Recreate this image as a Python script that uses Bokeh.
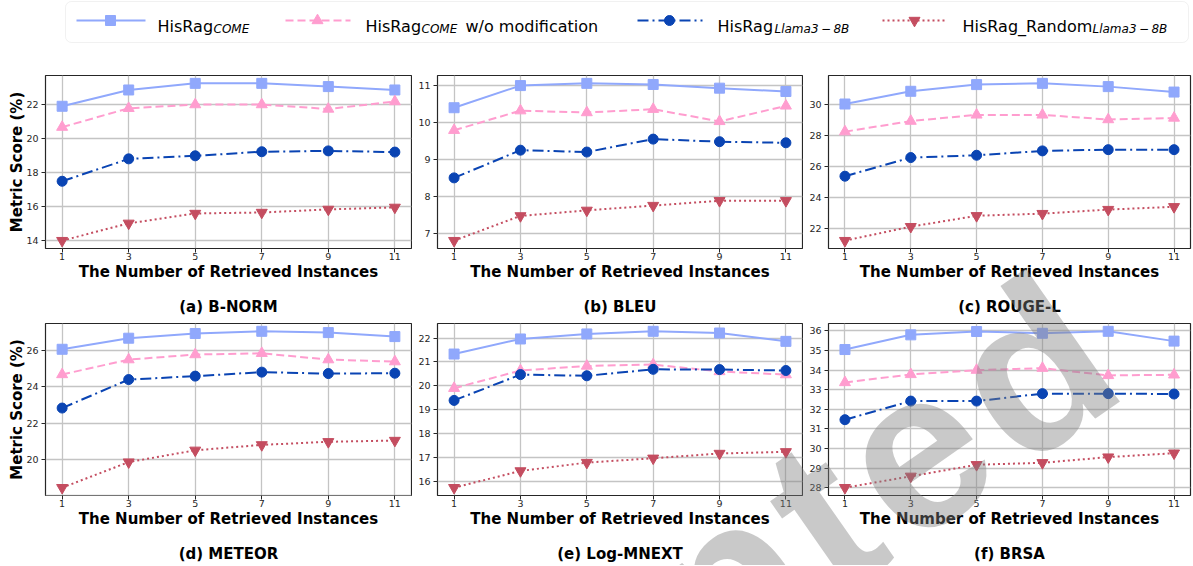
from bokeh.plotting import figure
from bokeh.models import Range1d, FixedTicker, BoxAnnotation, LinearAxis
from bokeh.layouts import column, row
from bokeh.embed import file_html
from bokeh.resources import INLINE
from bokeh.core.properties import value

# ---------------- data ----------------
x_vals = [1, 3, 5, 7, 9, 11]

series_labels = ["HisRag_COME", "HisRag_COME w/o modification",
                 "HisRag_Llama3-8B", "HisRag_Random_Llama3-8B"]

panel_titles = ["(a) B-NORM", "(b) BLEU", "(c) ROUGE-L",
                "(d) METEOR", "(e) Log-MNEXT", "(f) BRSA"]

bnorm_come = [21.92, 22.88, 23.27, 23.27, 23.08, 22.88]
bnorm_wo = [20.69, 21.80, 22.02, 22.02, 21.76, 22.20]
bnorm_llama = [17.50, 18.82, 19.00, 19.24, 19.29, 19.22]
bnorm_random = [14.00, 15.02, 15.60, 15.66, 15.84, 15.96]
bnorm_ticks = [14, 16, 18, 20, 22]

bleu_come = [10.40, 11.00, 11.06, 11.03, 10.93, 10.84]
bleu_wo = [9.79, 10.32, 10.27, 10.36, 10.03, 10.45]
bleu_llama = [8.50, 9.25, 9.20, 9.55, 9.48, 9.45]
bleu_random = [6.80, 7.47, 7.62, 7.75, 7.88, 7.88]
bleu_ticks = [7, 8, 9, 10, 11]

rouge_come = [30.00, 30.82, 31.25, 31.33, 31.12, 30.77]
rouge_wo = [28.22, 28.90, 29.30, 29.30, 29.00, 29.10]
rouge_llama = [25.35, 26.55, 26.70, 26.98, 27.06, 27.06]
rouge_random = [21.20, 22.10, 22.80, 22.94, 23.20, 23.38]
rouge_ticks = [22, 24, 26, 28, 30]

meteor_come = [26.07, 26.68, 26.94, 27.06, 26.99, 26.77]
meteor_wo = [24.68, 25.50, 25.78, 25.85, 25.50, 25.39]
meteor_llama = [22.83, 24.40, 24.59, 24.81, 24.73, 24.75]
meteor_random = [18.44, 19.85, 20.50, 20.80, 20.97, 21.04]
meteor_ticks = [18, 20, 22, 24, 26]

mnext_come = [21.33, 21.96, 22.17, 22.28, 22.21, 21.86]
mnext_wo = [19.90, 20.64, 20.83, 20.89, 20.60, 20.47]
mnext_llama = [19.39, 20.47, 20.42, 20.69, 20.68, 20.64]
mnext_random = [15.74, 16.44, 16.79, 16.97, 17.17, 17.24]
mnext_ticks = [16, 17, 18, 19, 20, 21, 22]

brsa_come = [35.05, 35.80, 35.97, 35.88, 35.98, 35.48]
brsa_wo = [33.37, 33.78, 34.00, 34.10, 33.73, 33.76]
brsa_llama = [31.47, 32.42, 32.42, 32.80, 32.80, 32.78]
brsa_random = [28.00, 28.58, 29.17, 29.27, 29.56, 29.76]
brsa_ticks = [28, 29, 30, 31, 32, 33, 34, 35, 36]

panels_series = [
    [bnorm_come, bnorm_wo, bnorm_llama, bnorm_random],
    [bleu_come, bleu_wo, bleu_llama, bleu_random],
    [rouge_come, rouge_wo, rouge_llama, rouge_random],
    [meteor_come, meteor_wo, meteor_llama, meteor_random],
    [mnext_come, mnext_wo, mnext_llama, mnext_random],
    [brsa_come, brsa_wo, brsa_llama, brsa_random],
]
panels_ticks = [bnorm_ticks, bleu_ticks, rouge_ticks,
                meteor_ticks, mnext_ticks, brsa_ticks]

watermark_text = "Accepted"

# ---------------- styles ----------------
STYLES = [
    dict(color="#90a8fc", dash="solid", marker="square", size=10),
    dict(color="#ff9dcf", dash="8 4", marker="triangle", size=11),
    dict(color="#0a44b3", dash="11 4 2 4", marker="circle", size=10),
    dict(color="#c44d60", dash="2 3", marker="inverted_triangle", size=11),
]
FONT = "DejaVu Sans"
DARK = "#262626"


def style_label(ax):
    ax.axis_label_text_font = FONT
    ax.axis_label_text_font_size = "15px"
    ax.axis_label_text_font_style = "bold"
    ax.axis_label_text_color = "black"


def make_panel(idx, width, height, mbl, mbr, mbt, mbb, ylabel):
    series = panels_series[idx]
    lo = min(min(s) for s in series)
    hi = max(max(s) for s in series)
    pad = 0.05 * (hi - lo)
    xpad = 0.05 * (max(x_vals) - min(x_vals))
    p = figure(width=width, height=height,
               x_range=Range1d(min(x_vals) - xpad, max(x_vals) + xpad),
               y_range=Range1d(lo - pad, hi + pad),
               output_backend="svg", toolbar_location=None,
               min_border_left=mbl, min_border_right=mbr,
               min_border_top=mbt, min_border_bottom=mbb)
    p.background_fill_color = "white"
    p.border_fill_color = "white"
    p.outline_line_color = DARK
    p.outline_line_width = 1.2
    p.outline_line_alpha = 1.0

    for ax in (p.xaxis[0], p.yaxis[0]):
        ax.axis_line_color = None
        ax.major_tick_line_color = DARK
        ax.major_tick_out = 4
        ax.major_tick_in = 0
        ax.minor_tick_line_color = None
        ax.major_label_text_font = FONT
        ax.major_label_text_font_size = "9.5px"
        ax.major_label_text_color = DARK
        style_label(ax)

    xt = FixedTicker(ticks=x_vals)
    yt = FixedTicker(ticks=panels_ticks[idx])
    p.xaxis[0].ticker = xt
    p.yaxis[0].ticker = yt
    p.xgrid[0].ticker = xt
    p.ygrid[0].ticker = yt
    p.xaxis[0].axis_label = "The Number of Retrieved Instances"
    p.xaxis[0].major_label_standoff = 0
    p.xaxis[0].axis_label_standoff = 0
    p.yaxis[0].major_label_standoff = 3
    p.yaxis[0].axis_label_standoff = -3
    if ylabel:
        p.yaxis[0].axis_label = "Metric Score (%)"

    # sub-figure caption, set as a tick-less axis below the x axis
    cap = LinearAxis(ticker=FixedTicker(ticks=[]), axis_label=panel_titles[idx],
                     axis_line_color=None, major_tick_line_color=None,
                     minor_tick_line_color=None, major_tick_out=0,
                     major_tick_in=0, minor_tick_out=0, minor_tick_in=0,
                     major_label_text_font_size="1px",
                     major_label_standoff=0, axis_label_standoff=14)
    style_label(cap)
    p.add_layout(cap, "below")

    p.grid.grid_line_color = "#c4c4c4"
    p.grid.grid_line_width = 1.3

    for vals, st in zip(series, STYLES):
        p.line(x_vals, vals, line_color=st["color"], line_width=2,
               line_dash=st["dash"])
        p.scatter(x_vals, vals, marker=st["marker"], size=st["size"],
                  fill_color=st["color"], line_color=st["color"])
    return p


# ---------------- legend strip ----------------
LW, LH = 1192, 49
leg = figure(width=LW, height=LH, x_range=Range1d(0, LW), y_range=Range1d(LH, 0),
             output_backend="svg", toolbar_location=None, min_border=0,
             x_axis_type=None, y_axis_type=None)
leg.outline_line_color = None
leg.background_fill_color = "white"
leg.border_fill_color = "white"
leg.grid.visible = False
leg.add_layout(BoxAnnotation(left=65, right=1188, top=1, bottom=42,
                             fill_color="white", fill_alpha=1.0,
                             line_color="#cfcfcf", line_width=1,
                             border_radius=6, level="underlay"))

entry_line = [(76, 145), (285, 350), (637, 702), (882, 947)]
entry_mark = [110, 317, 669, 914]
line_y = 20
for (lx0, lx1), xm, st in zip(entry_line, entry_mark, STYLES):
    leg.line([lx0, lx1], [line_y, line_y], line_color=st["color"], line_width=2,
             line_dash=st["dash"])
    leg.scatter([xm], [line_y], marker=st["marker"], size=st["size"],
                fill_color=st["color"], line_color=st["color"])

main_texts = ["HisRag", "HisRag", "w/o modification", "HisRag", "HisRag_Random"]
main_x = [157, 365, 465, 717, 962]
leg.text(x=main_x, y=[26] * len(main_x), text=main_texts,
         text_font=value(FONT), text_font_size=value("16px"),
         text_baseline="alphabetic", text_align="left", text_color="black")
sub_texts = ["COME", "COME", "Llama3\u2009\u2212\u20098B", "Llama3\u2009\u2212\u20098B"]
sub_x = [213, 421, 774, 1092]
leg.text(x=sub_x, y=[28.5] * len(sub_x), text=sub_texts,
         text_font=value(FONT), text_font_size=value("12px"),
         text_font_style="italic",
         text_baseline="alphabetic", text_align="left", text_color="black")

# ---------------- panels ----------------
pa = make_panel(0, 412, 271, 45, 1, 26, 72, True)
pb = make_panel(1, 391, 271, 25, 1, 26, 72, False)
pc = make_panel(2, 389, 271, 25, 2, 26, 72, False)
pd = make_panel(3, 412, 245, 45, 1, 3, 69, True)
pe = make_panel(4, 391, 245, 25, 1, 3, 69, False)
pf = make_panel(5, 389, 245, 25, 2, 3, 69, False)

layout = column(leg, row(pa, pb, pc), row(pd, pe, pf))

# page-level watermark overlay (the grey diagonal stamp across the lower right)
WM_X, WM_Y, WM_ANGLE, WM_SIZE, WM_SPACING = 1142, 386, 35, 225, 12
wm_block = (
    "{% block contents %}{{ super() }}"
    '<svg xmlns="http://www.w3.org/2000/svg" width="1192" height="565" '
    'style="position:absolute;left:0;top:0;pointer-events:none;z-index:1000;overflow:hidden">'
    f'<text x="{WM_X}" y="{WM_Y}" text-anchor="end" letter-spacing="{WM_SPACING}" '
    f'transform="rotate(-{WM_ANGLE} {WM_X} {WM_Y})" '
    f'font-family="Liberation Sans" font-weight="bold" font-size="{WM_SIZE}" '
    f'fill="#7f7f7f" fill-opacity="0.42">{watermark_text}</text></svg>'
    "{% endblock %}"
)

open("out.html", "w").write(file_html(layout, INLINE, template=wm_block))
